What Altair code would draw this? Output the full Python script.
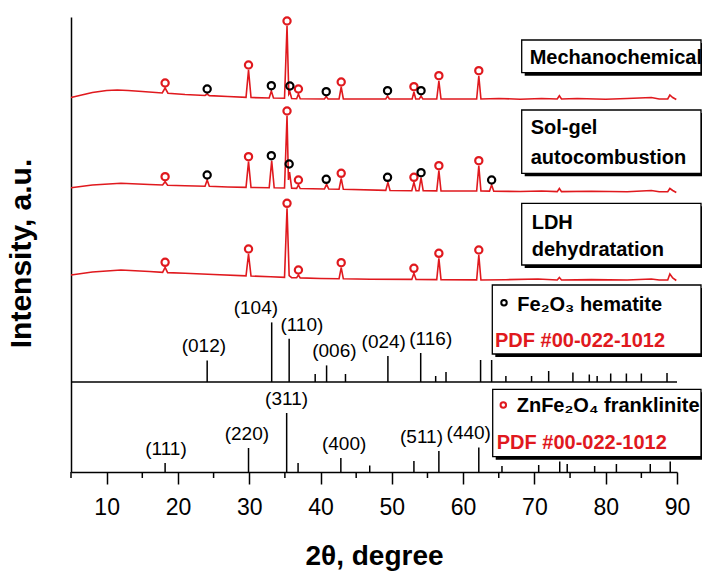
import altair as alt
import pandas as pd

RED = "#e0191e"
BLACK = "#000000"
FONT = "Liberation Sans"

# ---------------------------------------------------------------------------
# XRD patterns: 2θ (degrees) and intensity (a.u., stacked with offsets)
# ---------------------------------------------------------------------------
mech_theta = [5, 6.5, 8, 10, 11.5, 13, 15, 17.8, 18.2, 18.6, 21, 23.8, 24.1, 24.4,
              27, 29.55, 29.9, 30.25, 32.8, 33.1, 33.4, 34.95, 35.3, 35.55, 35.7,
              35.95, 36.65, 36.9, 37.15, 40.55, 40.8, 41.05, 42.6, 42.9, 43.2,
              49.15, 49.4, 49.65, 52.85, 53.1, 53.35, 53.85, 54.1, 54.35, 56.3,
              56.6, 56.9, 61.9, 62.2, 62.5, 65, 68, 71, 73.2, 73.5, 73.8, 76, 80,
              83, 86.4, 87.5, 88.7, 89.0, 89.4, 89.9]
mech_int = [374.5, 377, 379.5, 381.5, 382, 381.5, 380.5, 379, 384, 378.8, 377.5,
            376.5, 378, 376.4, 375.5, 374.7, 402, 374.5, 374, 381, 374, 373.8, 446,
            378, 380, 373.5, 373.3, 378, 373.3, 373, 375.5, 373, 373, 385, 373, 373,
            376, 373, 373, 380, 373, 373, 376, 373, 373, 391, 373, 373, 396, 373,
            373.5, 372.8, 373.5, 373, 376.3, 373, 373.5, 372.8, 373.5, 374.5, 373,
            373, 377, 374.5, 372.5]

solgel_theta = [5, 8, 12, 16, 17.85, 18.2, 18.55, 21, 23.8, 24.1, 24.4, 27, 29.55,
                29.9, 30.25, 32.8, 33.15, 33.5, 34.95, 35.3, 35.5, 35.65, 35.95,
                36.65, 36.9, 37.15, 40.55, 40.85, 41.15, 42.6, 42.9, 43.2, 49.15,
                49.45, 49.75, 52.8, 53.1, 53.4, 53.8, 54.1, 54.4, 56.3, 56.6, 56.9,
                61.9, 62.2, 62.5, 63.7, 64.0, 64.3, 68, 71, 73.2, 73.5, 73.8, 78,
                83, 86.4, 87.5, 88.7, 89.0, 89.4, 89.9]
solgel_int = [284.3, 287, 288.7, 287.5, 287, 290.3, 286.8, 286.3, 285.8, 292, 285.7,
              285, 284.6, 310.3, 284.5, 284.3, 311.3, 284.2, 284, 356, 292, 300,
              283.8, 283.6, 287, 283.5, 283, 287.7, 283, 282.8, 293.7, 282.7, 281.6,
              289.7, 281.5, 281.3, 289.7, 281.3, 281.3, 294.3, 281.2, 281.1, 301.3,
              281, 281, 306.3, 281, 280.9, 287, 280.8, 280.5, 281, 280.4, 283.5,
              280.4, 280.7, 280.2, 281.5, 280.2, 280.2, 283.5, 281.5, 279.5]

ldh_theta = [5, 8, 12, 16, 17.85, 18.2, 18.55, 21, 25, 29.55, 29.9, 30.25, 33,
             34.95, 35.3, 35.6, 35.95, 36.65, 36.9, 37.15, 40, 42.6, 42.9, 43.2, 47,
             52.8, 53.1, 53.4, 56.3, 56.6, 56.9, 61.9, 62.2, 62.5, 66, 70.5, 73.2,
             73.5, 73.8, 78, 83, 86.4, 87.5, 88.7, 89.0, 89.4, 89.9]
ldh_int = [197, 200, 202, 200.5, 199.6, 204.7, 199.4, 198.8, 197.5, 196.2, 218, 196,
           195.2, 194.6, 263.7, 196.5, 194.4, 194.2, 197, 194.1, 193.5, 193.3, 204.3,
           193.2, 192.8, 192.6, 198.7, 192.5, 192.4, 213.7, 192.3, 192.1, 217, 192,
           192.3, 193, 192, 194.5, 192, 192.4, 192, 193, 192, 192, 198, 194, 191.5]

# phase markers above the indexed reflections of each pattern
mech_frank_theta = [18.2, 29.9, 35.3, 36.9, 42.9, 53.1, 56.6, 62.2]
mech_frank_int = [389, 407, 451, 383, 390, 385.3, 396.3, 401.3]
mech_hem_theta = [24.1, 33.1, 35.7, 40.8, 49.4, 54.1]
mech_hem_int = [383, 386.3, 386, 380.3, 381.3, 381.3]

solgel_frank_theta = [18.2, 29.9, 35.3, 36.9, 42.9, 53.1, 56.6, 62.2]
solgel_frank_int = [295.3, 315.3, 361, 292, 298.7, 294.7, 306.3, 311.3]
solgel_hem_theta = [24.1, 33.1, 35.6, 40.8, 49.4, 54.1, 64.0]
solgel_hem_int = [297, 316.3, 308, 292.7, 294.7, 299.3, 292]

ldh_frank_theta = [18.2, 29.9, 35.3, 36.9, 42.9, 53.1, 56.6, 62.2]
ldh_frank_int = [209.7, 223, 268.7, 202, 209.3, 203.7, 218.7, 222]

# reference patterns (stick heights in a.u.)
HEM_BASE = 90
hem_theta = [24.1, 33.15, 35.6, 39.25, 40.85, 43.5, 49.45, 54.05, 56.15, 57.6,
             62.45, 64.0, 66.0, 69.6, 72.0, 75.4, 77.7, 78.8, 80.7, 82.9, 85.0, 88.6]
hem_height = [21.6, 59.6, 43.3, 8, 16.6, 8, 26, 29, 6, 10, 22, 22, 6, 6, 11, 9.5,
              7.5, 6, 8.5, 8.5, 8.5, 9]

frank_theta = [18.2, 29.9, 35.25, 36.85, 42.85, 46.9, 53.1, 56.6, 62.2, 65.45, 70.6,
               73.55, 74.6, 78.45, 81.5, 86.25, 89.05]
frank_height = [9, 24, 59, 9, 14, 6.5, 11, 21, 24.6, 6, 7, 10.5, 8, 6, 8, 8, 10.5]

# Miller indices: reflection they belong to and where the label is centred
hem_hkl = ["(012)", "(104)", "(110)", "(006)", "(024)", "(116)"]
hem_hkl_ref = [24.1, 33.15, 35.6, 40.85, 49.45, 54.05]
hem_hkl_theta = [23.64, 30.93, 37.38, 41.94, 48.87, 55.46]

frank_hkl = ["(111)", "(220)", "(311)", "(400)", "(511)", "(440)"]
frank_hkl_ref = [18.2, 29.9, 35.25, 42.85, 56.6, 62.2]
frank_hkl_theta = [18.32, 29.67, 35.24, 43.31, 54.16, 60.79]

major_ticks = [10, 20, 30, 40, 50, 60, 70, 80, 90]
minor_ticks = [5, 15, 25, 35, 45, 55, 65, 75, 85]

W, H = 606, 455

# ---------------------------------------------------------------------------
x_scale = alt.Scale(domain=[5, 90], nice=False, zero=False)
y_scale = alt.Scale(domain=[0, 455], nice=False, zero=True)

x_axis = alt.Axis(values=major_ticks, title="2θ, degree", grid=False,
                  tickSize=12, tickWidth=1.5, tickColor=BLACK,
                  domainColor=BLACK, domainWidth=1.5,
                  labelFont=FONT, labelFontSize=23, labelColor=BLACK,
                  labelPadding=12, labelFlush=False,
                  titleFont=FONT, titleFontSize=28, titleFontWeight="bold",
                  titleColor=BLACK, titlePadding=23)
y_axis = alt.Axis(title="Intensity, a.u.", ticks=False, labels=False, grid=False,
                  domainColor=BLACK, domainWidth=1.5,
                  titleFont=FONT, titleFontSize=30, titleFontWeight="bold",
                  titleColor=BLACK, titlePadding=35, titleY=236)


def frame(name, theta, inten):
    return pd.DataFrame({"sample": name, "theta": theta, "intensity": inten,
                         "order": range(len(theta))})


curves = pd.concat([
    frame("Mechanochemical", mech_theta, mech_int),
    frame("Sol-gel autocombustion", solgel_theta, solgel_int),
    frame("LDH dehydratation", ldh_theta, ldh_int),
])

lines = alt.Chart(curves).mark_line(color=RED, strokeWidth=1.6).encode(
    x=alt.X("theta:Q", scale=x_scale, axis=x_axis),
    y=alt.Y("intensity:Q", scale=y_scale, axis=y_axis),
    detail="sample:N",
    order="order:Q",
)


def marks(phase, theta, inten):
    return pd.DataFrame({"phase": phase, "theta": theta, "intensity": inten})


markers_df = pd.concat([
    marks("ZnFe2O4", mech_frank_theta, mech_frank_int),
    marks("Fe2O3", mech_hem_theta, mech_hem_int),
    marks("ZnFe2O4", solgel_frank_theta, solgel_frank_int),
    marks("Fe2O3", solgel_hem_theta, solgel_hem_int),
    marks("ZnFe2O4", ldh_frank_theta, ldh_frank_int),
])

markers = alt.Chart(markers_df).mark_point(
    shape="circle", filled=False, size=52, strokeWidth=2.2, opacity=1
).encode(
    x="theta:Q",
    y="intensity:Q",
    stroke=alt.Stroke("phase:N", scale=alt.Scale(domain=["ZnFe2O4", "Fe2O3"],
                                                 range=[RED, BLACK]), legend=None),
)

hem_df = pd.DataFrame({"theta": hem_theta,
                       "y0": [HEM_BASE] * len(hem_theta),
                       "y1": [HEM_BASE + h for h in hem_height]})
frank_df = pd.DataFrame({"theta": frank_theta,
                         "y0": [0] * len(frank_theta),
                         "y1": frank_height})
sticks = alt.Chart(pd.concat([hem_df, frank_df])).mark_rule(
    color=BLACK, strokeWidth=1.5
).encode(x="theta:Q", y="y0:Q", y2="y1:Q")

separator = alt.Chart(pd.DataFrame({"y": [HEM_BASE]})).mark_rule(
    color=BLACK, strokeWidth=1.5
).encode(y="y:Q")

minor = alt.Chart(pd.DataFrame({"t": minor_ticks})).mark_rule(
    color=BLACK, strokeWidth=1.5
).encode(x="t:Q", y=alt.value(H), y2=alt.value(H + 6))

hem_top = dict(zip(hem_theta, [HEM_BASE + h for h in hem_height]))
frank_top = dict(zip(frank_theta, frank_height))
hkl_df = pd.DataFrame({
    "hkl": hem_hkl + frank_hkl,
    "theta": hem_hkl_theta + frank_hkl_theta,
    "top": [hem_top[r] for r in hem_hkl_ref] + [frank_top[r] for r in frank_hkl_ref],
})
hkl_labels = alt.Chart(hkl_df).mark_text(
    font=FONT, fontSize=19, color=BLACK, baseline="bottom", align="center", dy=-4
).encode(x="theta:Q", y="top:Q", text="hkl:N")

one = pd.DataFrame({"k": [0]})


def box(x0, y0, x1, y1):
    shadow = alt.Chart(one).mark_rect(color=BLACK).encode(
        x=alt.value(x0 + 3), x2=alt.value(x1 + 3),
        y=alt.value(y0 + 3), y2=alt.value(y1 + 3))
    face = alt.Chart(one).mark_rect(fill="white", stroke=BLACK, strokeWidth=1.3).encode(
        x=alt.value(x0), x2=alt.value(x1), y=alt.value(y0), y2=alt.value(y1))
    return [shadow, face]


def label(text, x, y, size=20, color=BLACK):
    return alt.Chart(one).mark_text(
        text=text, font=FONT, fontSize=size, fontWeight="bold", color=color,
        align="left", baseline="alphabetic"
    ).encode(x=alt.value(x), y=alt.value(y))


def legend_dot(x, y, color):
    return alt.Chart(one).mark_point(
        shape="circle", filled=False, size=30, strokeWidth=2, stroke=color, opacity=1
    ).encode(x=alt.value(x), y=alt.value(y))


annotations = (
    box(450.7, 23, 630, 55.7)
    + [label("Mechanochemical", 458.7, 46.5)]
    + box(450.7, 93, 630, 156.3)
    + [label("Sol-gel", 459.7, 117), label("autocombustion", 459.7, 147)]
    + box(450.7, 186.3, 630, 248)
    + [label("LDH", 460.7, 211.5), label("dehydratation", 460.7, 238.5)]
    + box(421.3, 268, 630, 337)
    + [legend_dot(433, 285.7, BLACK),
       label("Fe₂O₃ hematite", 446.3, 294),
       label("PDF #00-022-1012", 424, 329.7, color=RED)]
    + box(421.7, 372.3, 630, 439.7)
    + [legend_dot(432.3, 388, RED),
       label("ZnFe₂O₄ franklinite", 445.7, 394.7),
       label("PDF #00-022-1012", 425.7, 432.3, color=RED)]
)

chart = alt.layer(
    separator, sticks, minor, hkl_labels, lines, markers, *annotations
).properties(
    width=W, height=H,
    padding={"left": 71, "top": 17, "right": 25, "bottom": 103},
    autosize=alt.AutoSizeParams(type="none"),
    background="white",
).configure_view(stroke=None)

chart.save("out.html", embed_options={"renderer": "svg", "actions": False})
